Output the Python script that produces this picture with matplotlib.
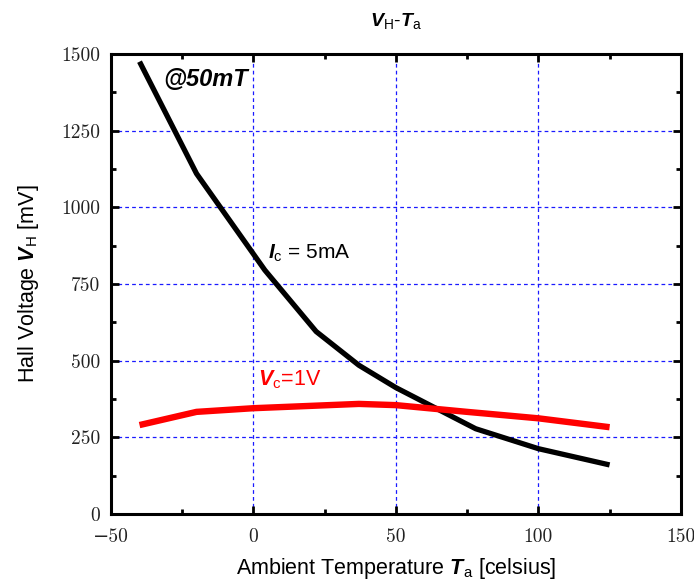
import matplotlib
matplotlib.use("Agg")
import matplotlib.pyplot as plt
from matplotlib.ticker import MultipleLocator, FuncFormatter

# Hall voltage vs ambient temperature at 50 mT
temp_ic = [-40, -20, 4, 22, 37, 50, 78, 100, 125]
vh_ic = [1475, 1110, 795, 595, 485, 412, 278, 213, 160]     # Ic = 5 mA
temp_vc = [-40, -20, 0, 37, 50, 75, 100, 125]
vh_vc = [290, 333, 345, 359, 355, 333, 312, 283]            # Vc = 1 V

plt.rcParams["mathtext.fontset"] = "custom"
plt.rcParams["mathtext.rm"] = "Liberation Sans"
plt.rcParams["mathtext.it"] = "Liberation Sans:italic"
plt.rcParams["mathtext.bf"] = "Liberation Sans:bold:italic"
plt.rcParams["font.family"] = "Liberation Sans"

fig = plt.figure(figsize=(6.94, 5.80), dpi=100)
ax = fig.add_axes([0.160, 0.1138, 0.821, 0.7931])

grid_kw = dict(color="#1a1aff", ls=(0, (3, 2.5)), lw=0.9, zorder=1)
for x in (0, 50, 100):
    ax.axvline(x, **grid_kw)
for y in (250, 500, 750, 1000, 1250):
    ax.axhline(y, **grid_kw)

ax.plot(temp_ic, vh_ic, color="black", lw=3.8, solid_capstyle="butt", zorder=3)
ax.plot(temp_vc, vh_vc, color="#ff0000", lw=4.6, solid_capstyle="butt", zorder=3)

ax.set_xlim(-50, 150)
ax.set_ylim(0, 1500)
ax.xaxis.set_major_locator(MultipleLocator(50))
ax.xaxis.set_minor_locator(MultipleLocator(25))
ax.yaxis.set_major_locator(MultipleLocator(250))
ax.yaxis.set_minor_locator(MultipleLocator(125))
fmt = FuncFormatter(lambda v, p: f"{v:g}".replace("-", "\u2212"))
ax.xaxis.set_major_formatter(fmt)
ax.yaxis.set_major_formatter(fmt)
ax.tick_params(which="both", direction="in", top=True, right=True, width=2.0)
ax.tick_params(which="major", length=6)
ax.tick_params(axis="x", which="major", pad=10)
ax.tick_params(axis="y", which="major", pad=8)
ax.tick_params(which="minor", length=3.5)
for lab in ax.get_xticklabels() + ax.get_yticklabels():
    lab.set_fontfamily(["cmr10", "DejaVu Serif"])
    lab.set_fontsize(14)
    lab.set_color("#222222")
for s in ax.spines.values():
    s.set_linewidth(2.2)

ax.set_xlabel(r"Ambient Temperature $\mathbf{T}_{\mathrm{a}}$ [celsius]", fontsize=15.5, labelpad=7)
ax.set_ylabel(r"Hall Voltage $\mathbf{V}_{\mathrm{H}}$ [mV]", fontsize=15.5, labelpad=14)
ax.set_title(r"$\mathbf{V}_{\mathrm{H}}$-$\mathbf{T}_{\mathrm{a}}$", fontsize=14, pad=20)

ax.text(-31.8, 1418, "@50mT", fontsize=17, fontweight="bold", fontstyle="italic",
        va="center", ha="left")
ax.text(5, 851, r"$\mathbf{I}_{\mathrm{c}}$ = 5mA", fontsize=15, va="center", ha="left")
ax.text(1.6, 437, r"$\mathbf{V}_{\mathrm{c}}$=1V", fontsize=15.5, va="center", ha="left",
        color="#ff0000")

fig.savefig("out.png", dpi=100)
